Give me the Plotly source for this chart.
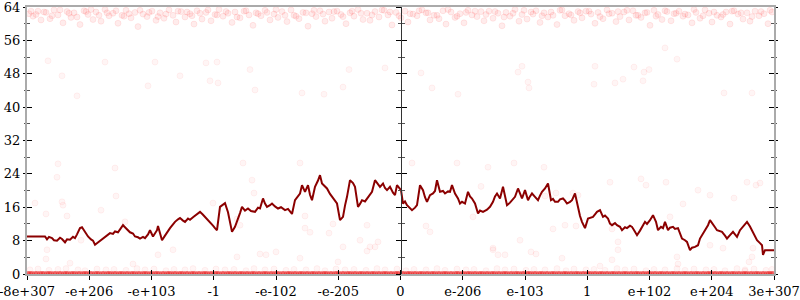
import plotly.graph_objects as go

# ---------------- data ----------------
# x is a sample index across the float range (0 .. 747), y is a 0..64 score
N_SPAN = 747
tick_labels = ["-8e+307", "-e+206", "-e+103", "-1", "-e-102", "-e-205", "0",
               "e-206", "e-103", "1", "e+102", "e+204", "3e+307"]

line_x = [0, 18, 20, 22, 25, 27, 30, 33, 35, 38, 40, 43, 46, 48, 50, 53, 55, 58, 61, 64, 66, 68, 71, 73,
          76, 78, 81, 83, 86, 88, 91, 93, 96, 98, 101, 103, 106, 108, 111, 113, 116, 118, 121, 123, 126,
          128, 130, 131, 133, 135, 138, 140, 143, 146, 148, 151, 153, 156, 158, 161, 163, 166, 168, 171,
          173, 176, 178, 181, 183, 186, 188, 190, 193, 196, 198, 201, 203, 205, 208, 210, 213, 215, 218,
          221, 224, 228, 231, 233, 236, 238, 240, 243, 245, 248, 251, 254, 258, 261, 263, 265, 268, 271,
          273, 275, 278, 281, 283, 285, 288, 291, 293, 295, 298, 300, 303, 306, 308, 310, 313, 316, 318,
          320, 323, 326, 328, 331, 333, 335, 338, 340, 343, 345, 348, 351, 353, 356, 358, 360, 363, 366,
          368, 370, 373, 374, 376, 378, 380, 383, 385, 388, 390, 393, 396, 398, 400, 403, 406, 408, 410,
          413, 416, 418, 421, 423, 425, 428, 431, 433, 435, 438, 441, 443, 445, 448, 451, 453, 456, 460,
          463, 466, 468, 470, 473, 476, 478, 480, 483, 485, 488, 491, 493, 495, 498, 501, 503, 505, 508,
          511, 513, 515, 518, 521, 524, 526, 528, 531, 533, 536, 538, 540, 543, 545, 548, 551, 553, 555,
          558, 561, 563, 566, 568, 570, 573, 576, 578, 581, 583, 585, 588, 590, 593, 595, 598, 600, 603,
          605, 608, 610, 613, 615, 618, 620, 623, 626, 629, 631, 634, 636, 638, 641, 643, 646, 648, 651,
          653, 655, 658, 660, 663, 665, 668, 671, 673, 676, 678, 681, 683, 686, 688, 690, 693, 695, 698,
          700, 703, 706, 708, 710, 713, 716, 718, 720, 723, 725, 728, 730, 733, 735, 736, 738, 747]
line_y = [9.0, 9.0, 8.3, 8.9, 8.6, 8.1, 8.0, 8.7, 8.4, 7.6, 8.3, 8.2, 8.9, 8.6, 9.5, 11.0, 11.2, 10.0,
          9.0, 8.3, 8.0, 7.0, 7.6, 8.0, 8.5, 8.8, 9.4, 9.8, 9.6, 10.2, 10.0, 10.6, 11.7, 11.2, 10.5, 10.0,
          9.7, 9.0, 8.8, 8.5, 8.9, 8.6, 9.5, 10.5, 9.0, 9.8, 10.5, 11.5, 9.6, 8.1, 9.2, 10.0, 11.0, 11.9,
          12.5, 13.1, 13.4, 12.8, 12.5, 13.3, 13.0, 13.6, 14.0, 14.5, 14.9, 14.2, 13.7, 13.1, 12.5, 11.6,
          11.0, 10.5, 16.1, 16.6, 17.0, 14.8, 12.5, 10.1, 11.3, 12.5, 14.6, 16.1, 15.2, 15.7, 15.1, 14.9,
          15.9, 15.7, 18.1, 16.9, 16.1, 16.5, 16.9, 16.2, 15.7, 16.0, 15.3, 15.6, 14.9, 14.4, 17.7, 18.6,
          19.3, 21.3, 19.7, 21.3, 19.0, 17.7, 20.9, 22.4, 23.7, 21.7, 21.0, 20.5, 19.2, 18.1, 17.4, 16.9,
          12.9, 13.7, 16.4, 18.5, 22.5, 21.8, 20.9, 16.1, 16.8, 17.7, 17.4, 18.1, 19.0, 19.7, 22.5, 21.4,
          20.9, 21.7, 20.6, 20.1, 20.9, 19.5, 18.9, 21.3, 20.5, 20.1, 16.9, 17.4, 16.5, 15.9, 15.3, 15.9,
          16.5, 21.3, 20.1, 18.4, 17.3, 18.9, 19.3, 19.9, 22.5,
          19.7, 19.9, 19.3, 19.8, 19.7, 21.3,
          19.3, 18.1, 16.9, 17.3, 16.9, 19.7, 18.6, 18.1, 16.9, 14.5, 15.2, 14.9, 15.4, 16.1, 17.3, 18.6,
          19.3, 18.1, 20.9, 18.3, 16.5, 17.1, 17.7, 18.5, 20.5, 19.2, 18.1, 20.1, 17.7, 18.6, 19.3, 18.5,
          17.7, 18.8, 19.7, 20.5, 21.7, 17.7, 18.0, 17.3, 17.3, 17.9, 18.1, 17.6, 16.9, 17.3, 17.7, 19.3,
          15.7, 13.9, 12.5, 11.0,
          13.3, 13.5, 13.7, 14.3, 14.9, 15.3, 13.7, 14.0, 13.3, 12.1, 11.7, 12.2, 11.7, 11.3, 10.5, 11.2,
          11.0, 11.6, 11.3, 10.1, 9.3, 10.4, 11.3, 12.5, 12.0, 12.9, 14.1, 12.5, 10.5, 11.3, 11.0, 12.5,
          10.5, 11.1, 11.3, 10.8, 11.0, 9.8, 8.5, 8.1, 7.7, 5.7, 6.3, 6.5, 6.9, 8.5, 9.6, 10.5, 11.7,
          12.9, 11.7, 11.2, 10.5, 10.3, 10.1, 9.2, 8.5, 9.3, 10.1, 9.5, 8.9, 10.5, 11.3, 12.1, 12.5, 11.4,
          10.5, 9.2, 8.1, 7.4, 6.9, 4.6, 5.7, 5.7]

top_x = [2, 6, 11, 14, 19, 23, 27, 31, 36, 40, 44, 47, 53, 57, 61, 66, 69, 74, 78, 82, 86, 91, 95, 99,
         104, 108, 111, 116, 120, 125, 129, 133, 137, 142, 146, 149, 154, 158, 163, 167, 170, 175, 179,
         184, 188, 192, 196, 201, 205, 208, 213, 217, 222, 226, 229, 234, 238, 243, 247, 251, 255, 260,
         264, 267, 272, 276, 281, 285, 289, 293, 298, 302, 305, 310, 314, 319, 323, 327, 331, 336, 340,
         343, 348, 352, 357, 361, 365, 369, 374, 378, 381, 386, 390, 395, 399, 403, 407, 412, 416, 419,
         424, 428, 433, 437, 441, 445, 450, 454, 457, 462, 466, 471, 475, 479, 483, 488, 492, 495, 500,
         504, 509, 513, 517, 521, 526, 530, 533, 538, 542, 547, 551, 555, 559, 564, 568, 571, 576, 580,
         585, 589, 593, 597, 602, 606, 609, 614, 618, 623, 627, 631, 635, 640, 644, 647, 652, 656, 661,
         665, 669, 673, 678, 682, 685, 690, 694, 699, 703, 707, 711, 716, 720, 723, 728, 732, 737, 741, 745]
top_y = [62.4, 61.8, 63.0, 60.9, 62.7, 61.2, 63.3, 62.1, 60.2, 62.9,
         61.5, 62.6, 59.8, 63.1, 62.2, 61.0, 62.8, 60.6, 63.4, 61.9,
         62.5, 60.1, 62.0, 63.2, 61.4, 62.7, 59.3, 62.3, 61.7, 63.0,
         60.8, 62.6, 61.3, 63.3, 62.0, 60.4, 62.9, 61.6, 62.4, 59.9,
         63.1, 61.1, 62.7, 60.7, 62.2, 63.4, 61.8, 62.5, 60.3, 62.8,
         61.4, 63.0, 62.1, 59.6, 62.6, 61.9, 63.2, 60.9, 62.3, 61.5,
         62.9, 60.5, 63.3, 62.0, 61.2, 62.7, 59.4, 62.4, 61.7, 63.1,
         60.6, 62.8, 61.3, 63.0, 62.2, 60.0, 62.6, 61.8, 63.4, 61.0,
         62.5, 60.8, 62.9, 61.6, 63.2, 62.1, 59.7, 62.7, 61.4, 63.0,
         60.4, 62.3, 61.9, 63.3, 62.6, 60.9, 62.0, 61.2, 63.1, 59.9,
         62.8, 61.5, 62.4, 60.2, 63.2, 62.1, 61.7, 62.9, 60.7, 63.0,
         61.3, 62.5, 59.5, 62.7, 61.8, 63.4, 60.6, 62.2, 61.1, 62.8,
         63.1, 60.3, 62.6, 61.6, 62.0, 59.8, 63.2, 61.9, 62.4, 60.8,
         62.9, 61.4, 63.0, 62.3, 60.1, 62.7, 61.2, 63.3, 62.5, 60.5,
         61.7, 62.8, 60.9, 63.1, 62.0, 61.5, 62.6, 59.6, 63.2, 62.2,
         61.0, 62.9, 60.7, 62.4, 63.0, 61.8, 62.1, 60.2, 62.7, 61.3,
         63.3, 62.5, 60.4, 62.0, 61.6, 62.8, 59.9, 63.1, 62.3, 61.1,
         62.6, 60.6, 63.0, 61.9, 62.4, 60.0, 62.8, 61.4]

top2_x = [4, 9, 17, 25, 33, 42, 50, 59, 64, 72, 80, 89, 97, 102, 113, 122, 131, 139, 151, 160, 165, 173,
          181, 190, 199, 210, 219, 231, 240, 249, 258, 269, 279, 287, 296, 307, 316, 325, 334, 345, 355,
          363, 372, 383, 392, 401, 410, 421, 430, 439, 448, 459, 468, 477, 486, 497, 506, 515, 524, 535,
          544, 553, 562, 573, 582, 591, 600, 611, 620, 629, 638, 649, 658, 667, 676, 687, 696, 705, 714,
          725, 734, 743]
top2_y = [63.0, 62.2, 62.8, 61.9, 63.3, 62.5, 61.6, 62.9, 63.4, 62.0,
          62.6, 63.1, 61.8, 62.4, 63.2, 62.7, 61.7, 62.3, 63.0, 62.8,
          61.9, 62.5, 63.3, 62.1, 62.9, 61.6, 63.1, 62.4, 62.7, 63.4,
          62.0, 61.8, 62.6, 63.2, 62.3, 62.9, 61.7, 63.0, 62.5, 62.1,
          63.3, 62.8, 61.9, 62.4, 63.1, 62.6, 62.0, 63.4, 61.8, 62.7,
          63.0, 62.2, 62.9, 61.6, 62.5, 63.2, 62.3, 61.9, 62.8, 63.3,
          62.1, 62.6, 63.0, 61.7, 62.4, 62.9, 63.2, 62.0, 62.7, 61.8,
          63.1, 62.5, 62.3, 63.4, 61.9, 62.8, 62.2, 63.0, 62.6, 61.7,
          62.9, 63.2]

mid_x = [21, 35, 50, 78, 121, 128, 153, 179, 190, 183, 191, 223, 228, 322, 316, 358, 275, 297,
         394, 405, 491, 495, 501, 502, 431, 568, 567, 588, 596, 616, 617, 622, 650, 607, 638, 697, 725,
         8, 19, 30, 31, 35, 36, 40, 74, 88, 89, 98, 146, 19, 54,
         216, 273, 225, 227, 186, 210, 213, 278, 302, 333, 343, 239, 283, 306, 340, 351, 278,
         385, 430, 487, 399, 403, 454, 461, 517, 518, 529, 546, 551, 446, 466, 471, 504, 526, 538, 549,
         614, 619, 639, 671, 683, 707, 720, 729, 733, 656, 643, 583, 585, 591, 650, 696, 726, 718, 585,
         20, 43, 106, 210, 233, 249, 316, 340, 348, 131, 311, 273,
         466, 478, 509, 493, 591, 683, 722, 725, 535, 573, 651]
mid_y = [51.1, 47.5, 42.7, 50.8, 45.1, 50.8, 47.5, 50.6, 50.8, 46.3, 45.8, 49.0, 44.1, 49.0, 44.8, 49.4,
         43.4, 43.1, 48.2, 44.6, 48.4, 49.8, 46.0, 44.6, 43.1, 49.8, 45.5, 45.8, 46.7, 46.3, 48.4, 49.0,
         51.5, 49.6, 54.2, 43.4, 43.4,
         17.0, 14.4, 23.2, 26.4, 17.3, 16.5, 13.9, 15.3, 25.4, 18.7, 12.5, 5.8, 3.6, 8.1,
         26.6, 26.6, 22.5, 19.4, 17.0, 13.2, 11.7, 11.0, 9.8, 8.1, 6.5, 4.6, 10.0, 12.0, 11.7, 7.7, 13.9,
         26.6, 26.6, 26.6, 11.5, 10.1, 21.0, 25.6, 25.6, 18.7, 19.4, 19.4, 18.9, 13.7, 5.8, 4.6, 5.3,
         10.8, 11.7, 11.5,
         22.8, 21.3, 22.0, 20.1, 18.9, 18.2, 22.0, 21.3, 21.8, 16.8, 13.7, 22.0, 10.8, 5.8, 4.1, 6.2,
         6.2, 0.7, 3.4,
         5.8, 2.6, 2.4, 4.1, 4.8, 5.3, 6.5, 5.5, 6.5, 4.6, 2.9, 3.8,
         6.2, 4.6, 4.8, 8.1, 7.7, 6.9, 2.9, 4.1, 3.8, 1.9, 2.4]

bot0_x = [1, 5, 8, 13, 17, 20, 24, 29, 32, 37, 41, 44, 48, 53, 56, 60, 65, 68, 72, 77, 80, 84, 89, 92,
          96, 101, 104, 108, 113, 116, 120, 125, 128, 132, 137, 140, 144, 149, 152, 156, 161, 164, 168,
          173, 176, 180, 185, 188, 192, 197, 200, 204, 209, 212, 216, 221, 224, 228, 233, 236, 240, 245,
          248, 252, 257, 260, 264, 269, 272, 276, 281, 284, 288, 293, 296, 300, 305, 308, 312, 317, 320,
          324, 329, 332, 336, 341, 344, 348, 353, 356, 360, 365, 368, 372, 377, 380, 384, 389, 392, 396,
          401, 404, 408, 413, 416, 420, 425, 428, 432, 437, 440, 444, 449, 452, 456, 461, 464, 468, 473,
          476, 480, 485, 488, 492, 497, 500, 504, 509, 512, 516, 521, 524, 528, 533, 536, 540, 545, 548,
          552, 557, 560, 564, 569, 572, 576, 581, 584, 588, 593, 596, 600, 605, 608, 612, 617, 620, 624,
          629, 632, 636, 641, 644, 648, 653, 656, 660, 665, 668, 672, 677, 680, 684, 689, 692, 696, 701,
          704, 708, 713, 716, 720, 725, 728, 732, 737, 740, 744, 746]
bot0b_x = [3, 10, 15, 22, 27, 34, 39, 46, 51, 58, 63, 70, 75, 82, 87, 94, 99, 106, 111, 118, 123, 130,
           135, 142, 147, 154, 159, 166, 171, 178, 183, 190, 195, 202, 207, 214, 219, 226, 231, 238,
           243, 250, 255, 262, 267, 274, 279, 286, 291, 298, 303, 310, 315, 322, 327, 334, 339, 346,
           351, 358, 363, 370, 375, 382, 387, 394, 399, 406, 411, 418, 423, 430, 435, 442, 447, 454,
           459, 466, 471, 478, 483, 490, 495, 502, 507, 514, 519, 526, 531, 538, 543, 550, 555, 562,
           567, 574, 579, 586, 591, 598, 603, 610, 615, 622, 627, 634, 639, 646, 651, 658, 663, 670,
           675, 682, 687, 694, 699, 706, 711, 718, 723, 730, 735, 742]

bot1_x = [3, 11, 22, 31, 39, 51, 58, 70, 79, 87, 99, 110, 118, 127, 139, 147, 158, 166, 178, 189, 198,
          207, 219, 227, 238, 247, 259, 267, 279, 290, 298, 309, 318, 327, 339, 350, 358, 370, 379, 387,
          399, 410, 418, 430, 439, 447, 459, 470, 478, 487, 499, 507, 518, 530, 539, 547, 559, 567, 578,
          590, 598, 607, 619, 627, 638, 650, 658, 667, 679, 687, 698, 710, 718, 727, 739, 745]
bot1_y = [1.0, 1.2, 0.9, 1.1, 1.3, 1.0, 0.8, 1.2, 1.0, 1.1, 0.9, 1.3, 1.0, 1.2, 0.8, 1.1, 1.0, 1.3,
          0.9, 1.2, 1.0, 1.1, 0.8, 1.3, 1.0, 1.2, 0.9, 1.1, 1.0, 1.3, 0.8, 1.2, 1.0, 1.1, 0.9, 1.3,
          1.0, 1.2, 0.8, 1.1, 1.0, 1.3, 0.9, 1.2, 1.0, 1.1, 0.8, 1.3, 1.0, 1.2, 0.9, 1.1, 1.0, 1.3,
          0.8, 1.2, 1.0, 1.1, 0.9, 1.3, 1.0, 1.2, 0.8, 1.1, 1.0, 1.3, 0.9, 1.2, 1.0, 1.1, 0.8, 1.3,
          1.0, 1.2, 0.9, 1.1]

# ---------------- figure ----------------
tick_vals = [i * N_SPAN / 12 for i in range(13)]
FONT = dict(family="DejaVu Serif", size=13, color="black")
dot_top = dict(size=6, color="rgba(255,0,0,0.075)", line=dict(width=1, color="rgba(255,0,0,0.08)"))
dot = dict(size=6, color="rgba(255,0,0,0.04)", line=dict(width=1, color="rgba(255,0,0,0.05)"))
dot0 = dict(size=6, color="rgba(230,0,0,0.4)", line=dict(width=0))

fig = go.Figure()
for xs, ys, mk in [(top_x, top_y, dot_top), (top2_x, top2_y, dot_top), (mid_x, mid_y, dot),
                   (bot1_x, bot1_y, dot)]:
    n = min(len(xs), len(ys))
    fig.add_trace(go.Scatter(x=xs[:n], y=ys[:n], mode="markers", marker=mk,
                             hoverinfo="skip", showlegend=False))
for xs in [bot0_x, bot0b_x]:
    fig.add_trace(go.Scatter(x=xs, y=[0] * len(xs), mode="markers", marker=dot0,
                             hoverinfo="skip", showlegend=False))
n_line = min(len(line_x), len(line_y))
fig.add_trace(go.Scatter(x=line_x[:n_line], y=line_y[:n_line], mode="lines",
                         line=dict(color="#8b0000", width=2),
                         showlegend=False))

yr = [0, 64]
xr = [0, N_SPAN]
common_y = dict(range=yr, tickvals=list(range(0, 65, 8)), showgrid=False, zeroline=False,
                tickcolor="black", tickwidth=1, automargin=False, ticklabeloverflow="allow")
minor_common = dict(dtick=4, tick0=0, tickcolor="#555", tickwidth=1, showgrid=False)

fig.update_layout(
    width=800, height=300,
    margin=dict(l=27, r=26, t=7, b=26),
    paper_bgcolor="white", plot_bgcolor="white",
    font=FONT,
    xaxis=dict(range=xr, tickvals=tick_vals, ticktext=tick_labels, showgrid=False, zeroline=False,
               ticks="outside", ticklen=4, tickcolor="black", tickwidth=1, automargin=False,
               ticklabeloverflow="allow",
               showline=True, linecolor="#aaaaaa", linewidth=2, mirror=True, tickfont=FONT),
    xaxis2=dict(range=xr, overlaying="x", anchor="y", tickvals=tick_vals, showticklabels=False,
                showgrid=False, zeroline=False, ticks="inside", ticklen=4, tickcolor="black",
                tickwidth=1, showline=False, automargin=False),
    yaxis=dict(**common_y, ticks="outside", ticklen=2, showline=True, linecolor="#aaaaaa",
               linewidth=2, mirror="ticks", tickfont=FONT,
               minor=dict(**minor_common, ticks="outside", ticklen=1)),
    yaxis2=dict(**common_y, overlaying="y", side="left", ticks="inside", ticklen=5,
                showticklabels=False, showline=False, mirror="ticks",
                minor=dict(**minor_common, ticks="inside", ticklen=3)),
    yaxis3=dict(**common_y, overlaying="y", anchor="free", position=0.5, side="left",
                ticks="outside", ticklen=5, showticklabels=False, showline=True,
                linecolor="#333333", linewidth=1,
                minor=dict(**minor_common, ticks="outside", ticklen=3)),
    yaxis4=dict(**common_y, overlaying="y", anchor="free", position=0.5, side="left",
                ticks="inside", ticklen=5, showticklabels=False, showline=False,
                minor=dict(**minor_common, ticks="inside", ticklen=3)),
)
# empty traces so every overlay axis is attached to the figure
for ax in ["y2", "y3", "y4"]:
    fig.add_trace(go.Scatter(x=[], y=[], yaxis=ax, showlegend=False, hoverinfo="skip"))
fig.add_trace(go.Scatter(x=[], y=[], xaxis="x2", showlegend=False, hoverinfo="skip"))

fig.write_html("out.html")
